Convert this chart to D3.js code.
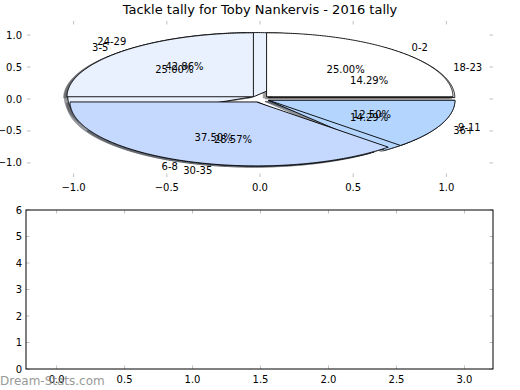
<!DOCTYPE html>
<html>
<head>
<meta charset="utf-8">
<script src="https://cdn.jsdelivr.net/npm/d3@7"></script>
<style>
  html, body { margin: 0; padding: 0; background: #fff; }
  svg text { font-family: "DejaVu Sans", sans-serif; }
</style>
</head>
<body>
<svg id="chart" width="520" height="390"></svg>
<script>
// ---- data ----
const title = "Tackle tally for Toby Nankervis - 2016 tally";
const pie1Labels = ["0-2", "3-5", "6-8", "9-11"];
const pie1Values = [2, 2, 3, 1];
const pie2Labels = ["18-23", "24-29", "30-35", "36+"];
const pie2Values = [1, 3, 2, 1];
const wedgeColors = ["#ffffff", "#e9f0fe", "#c5d8fd", "#b4d6fe"];
const pieTicks = [-1.0, -0.5, 0.0, 0.5, 1.0];
const barXTicks = [0.0, 0.5, 1.0, 1.5, 2.0, 2.5, 3.0];
const barYTicks = [0, 1, 2, 3, 4, 5, 6];
const explode = 0.05;
const watermark = "Dream-Stats.com";

const svg = d3.select("#chart");
const tickColor = "#c0c0c0";
const fs = 10;

// ---- pie axes ----
const px = d3.scaleLinear().domain([-1.25, 1.25]).range([27, 493]);
const py = d3.scaleLinear().domain([-1.22, 1.22]).range([177, 21]);

svg.append("text").attr("x", 260).attr("y", 14).attr("text-anchor", "middle")
  .attr("font-size", 13).attr("fill", "#000").text(title);

// ticks (no frame)
const gp = svg.append("g");
pieTicks.forEach(t => {
  gp.append("line").attr("x1", px(t)).attr("x2", px(t)).attr("y1", py.range()[1]).attr("y2", py.range()[1] + 3.5).attr("stroke", tickColor);
  gp.append("line").attr("x1", px(t)).attr("x2", px(t)).attr("y1", py.range()[0]).attr("y2", py.range()[0] - 3.5).attr("stroke", tickColor);
  gp.append("line").attr("y1", py(t)).attr("y2", py(t)).attr("x1", px.range()[0]).attr("x2", px.range()[0] + 3.5).attr("stroke", tickColor);
  gp.append("line").attr("y1", py(t)).attr("y2", py(t)).attr("x1", px.range()[1]).attr("x2", px.range()[1] - 3.5).attr("stroke", tickColor);
  gp.append("text").attr("x", px(t)).attr("y", py.range()[0] + 14).attr("text-anchor", "middle")
    .attr("font-size", fs).text(t.toFixed(1).replace("-", "\u2212"));
  gp.append("text").attr("x", px.range()[0] - 5).attr("y", py(t) + 3.5).attr("text-anchor", "end")
    .attr("font-size", fs).text(t.toFixed(1).replace("-", "\u2212"));
});

const line = d3.line().x(d => px(d[0])).y(d => py(d[1]));

function wedges(values) {
  const total = d3.sum(values);
  let a = 0;
  return values.map((v, i) => {
    const a0 = a, a1 = a + v / total * 2 * Math.PI;
    a = a1;
    const mid = (a0 + a1) / 2;
    const cx = explode * Math.cos(mid), cy = explode * Math.sin(mid);
    const pts = [[cx, cy]];
    const n = Math.max(8, Math.ceil((a1 - a0) / 0.01));
    for (let k = 0; k <= n; k++) {
      const t = a0 + (a1 - a0) * k / n;
      pts.push([cx + Math.cos(t), cy + Math.sin(t)]);
    }
    return { i, a0, a1, mid, cx, cy, pts, frac: v / total };
  });
}

const w1 = wedges(pie1Values);
const w2 = wedges(pie2Values);
const sh = -0.02 * 65 / 72;

// shadows
[w2, w1].forEach(ws => ws.forEach(w => {
  const c = d3.rgb(wedgeColors[w.i]);
  const sc = d3.rgb(c.r * 0.3, c.g * 0.3, c.b * 0.3);
  svg.append("path").attr("d", line(w.pts.map(p => [p[0] + sh, p[1] + sh])) + "Z")
    .attr("fill", sc).attr("stroke", sc).attr("opacity", 0.55);
}));
// wedges: second pie underneath, first pie on top
[w2, w1].forEach(ws => ws.forEach(w => {
  svg.append("path").attr("d", line(w.pts) + "Z")
    .attr("fill", wedgeColors[w.i]).attr("stroke", "#000").attr("stroke-width", 0.9)
    .attr("stroke-linejoin", "miter");
}));

function labels(ws, labs) {
  ws.forEach(w => {
    const xt = w.cx + 1.1 * Math.cos(w.mid), yt = w.cy + 1.1 * Math.sin(w.mid);
    svg.append("text").attr("x", px(xt)).attr("y", py(yt) + 3.5)
      .attr("text-anchor", xt > 0 ? "start" : "end").attr("font-size", fs).text(labs[w.i]);
    const xp = w.cx + 0.6 * Math.cos(w.mid), yp = w.cy + 0.6 * Math.sin(w.mid);
    svg.append("text").attr("x", px(xp)).attr("y", py(yp) + 3.5)
      .attr("text-anchor", "middle").attr("font-size", fs).text((w.frac * 100).toFixed(2) + "%");
  });
}
labels(w1, pie1Labels);
labels(w2, pie2Labels);

// ---- bottom axes ----
const bx = d3.scaleLinear().domain([-0.225, 3.21]).range([26, 493]);
const by = d3.scaleLinear().domain([0, 6]).range([369, 210]);
const gb = svg.append("g");
barXTicks.forEach(t => {
  gb.append("line").attr("x1", bx(t)).attr("x2", bx(t)).attr("y1", by(6)).attr("y2", by(6) + 3.5).attr("stroke", tickColor);
  gb.append("line").attr("x1", bx(t)).attr("x2", bx(t)).attr("y1", by(0)).attr("y2", by(0) - 3.5).attr("stroke", tickColor);
  gb.append("text").attr("x", bx(t)).attr("y", by(0) + 14).attr("text-anchor", "middle")
    .attr("font-size", fs).text(t.toFixed(1));
});
barYTicks.forEach(t => {
  gb.append("line").attr("y1", by(t)).attr("y2", by(t)).attr("x1", bx.range()[0]).attr("x2", bx.range()[0] + 3.5).attr("stroke", tickColor);
  gb.append("line").attr("y1", by(t)).attr("y2", by(t)).attr("x1", bx.range()[1]).attr("x2", bx.range()[1] - 3.5).attr("stroke", tickColor);
  gb.append("text").attr("x", bx.range()[0] - 4).attr("y", by(t) + 3.5).attr("text-anchor", "end")
    .attr("font-size", fs).text(t);
});
gb.append("rect").attr("x", bx.range()[0]).attr("y", by(6))
  .attr("width", bx.range()[1] - bx.range()[0]).attr("height", by(0) - by(6))
  .attr("fill", "none").attr("stroke", "#000").attr("stroke-width", 1);

svg.append("text").attr("x", 0).attr("y", 385).attr("font-size", 12)
  .attr("fill", "#888").attr("opacity", 0.85).text(watermark);
</script>
</body>
</html>
